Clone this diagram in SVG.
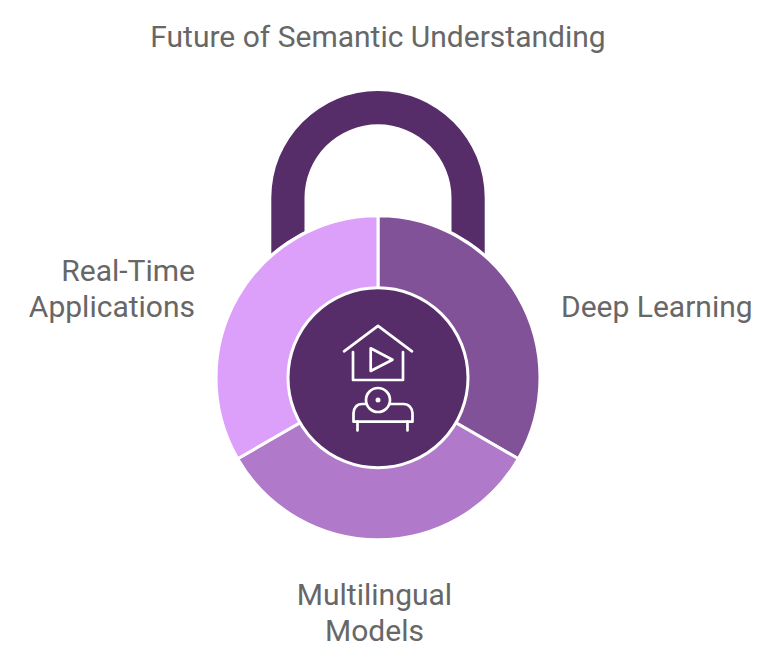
<svg xmlns="http://www.w3.org/2000/svg" width="774" height="666" viewBox="0 0 774 666">
<style>
.t{font-family:Roboto,"Liberation Sans",sans-serif;font-size:30px;fill:#666666;opacity:.99}
.seg{stroke:#ffffff;stroke-width:3}
.ic{fill:none;stroke:#ffffff;stroke-width:2.700;stroke-linecap:round;stroke-linejoin:round}
</style>
<rect width="774" height="666" fill="#ffffff"/>
<text class="t" x="378" y="46.500" text-anchor="middle">Future of Semantic Understanding</text>
<g id="shackle">
<path d="M271.300 300V197.700A106.700 106.700 0 0 1 484.700 197.700V300H451.500V197.800A73.500 73.500 0 0 0 304.500 197.800V300Z" fill="#562c69"/>
<circle cx="378" cy="377.750" r="164" fill="#ffffff"/>
</g>
<g id="deep-learning">
<path class="seg" d="M378 215.750A162 162 0 0 1 518.300 458.750L378 377.750Z" fill="#825298"/>
<text class="t" x="561" y="316.500">Deep Learning</text>
</g>
<g id="multilingual-models">
<path class="seg" d="M518.300 458.750A162 162 0 0 1 237.700 458.750L378 377.750Z" fill="#b079ca"/>
<text class="t" x="374.500" y="604.500" text-anchor="middle">Multilingual</text>
<text class="t" x="374.500" y="640.500" text-anchor="middle">Models</text>
</g>
<g id="real-time-applications">
<path class="seg" d="M237.700 458.750A162 162 0 0 1 378 215.750L378 377.750Z" fill="#dda0fa"/>
<text class="t" x="195" y="280.500" text-anchor="end">Real-Time</text>
<text class="t" x="195" y="316.500" text-anchor="end">Applications</text>
</g>
<g id="center">
<circle cx="378" cy="377.750" r="90" fill="#562c69" stroke="#ffffff" stroke-width="3"/>
<path class="ic" d="M344 351.300L378 325.800L412 351.300"/>
<path class="ic" d="M353 352V380H403V352"/>
<path class="ic" d="M370.700 348.300V371L392.500 359.700Z"/>
<circle class="ic" cx="378" cy="400" r="12"/>
<circle cx="378" cy="400" r="2.500" fill="#ffffff"/>
<path class="ic" d="M366 404H362C356.500 404 353.500 408.500 353.500 413V421.700H412.500V413C412.500 408.500 409 404 403.500 404H390"/>
<path class="ic" d="M357.500 421.700V430.500M407.500 421.700V430.500"/>
</g>
</svg>
